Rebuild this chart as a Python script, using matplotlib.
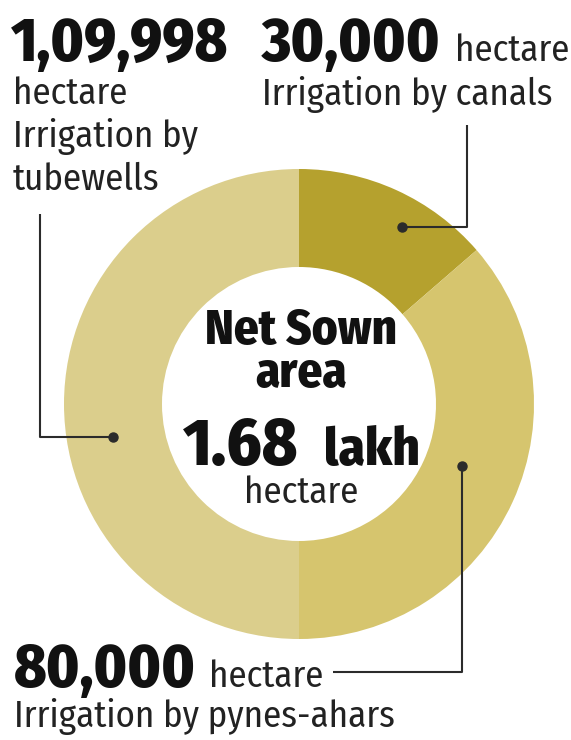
import matplotlib
matplotlib.use("Agg")
import matplotlib.pyplot as plt

# irrigation source shares of the net sown area (hectare)
sources = ["Irrigation by canals", "Irrigation by pynes-ahars", "Irrigation by tubewells"]
hectares = [30000, 80000, 109998]
value_labels = ["30,000", "80,000", "1,09,998"]
colors = ["#b5a12e", "#d6c56e", "#dbce8c"]

W, H = 571, 740
FONT = ["Fira Sans Condensed", "DejaVu Sans"]
INK = "#111111"
LINE = "#2b2b2b"


def y(px):
    # pixel row from the top -> data y
    return H - px


fig = plt.figure(figsize=(W / 100, H / 100), dpi=100)
ax = fig.add_axes([0, 0, 1, 1])

# donut
cx, cy, r_out, r_in = 299, 404, 235, 137
ax.pie(hectares, colors=colors, startangle=90, counterclock=False,
       center=(cx, y(cy)), radius=r_out, frame=True,
       wedgeprops=dict(width=r_out - r_in, linewidth=0))
ax.set_xlim(0, W)
ax.set_ylim(0, H)
ax.set_aspect("equal")
ax.axis("off")

# leader lines with dots
leaders = [
    [(402, 227), (467, 227), (467, 125)],   # canals
    [(113, 437), (40, 437), (40, 214)],     # tubewells
    [(462, 466), (462, 672), (333, 672)],   # pynes-ahars
]
for pts in leaders:
    xs = [p[0] for p in pts]
    ys = [y(p[1]) for p in pts]
    ax.plot(xs, ys, color=LINE, lw=1.5, solid_capstyle="butt")
    ax.plot(xs[0], ys[0], "o", color=LINE, ms=6.5)

big = dict(family=FONT, weight=800, color=INK, fontsize=44, va="baseline")
reg = dict(family=FONT, color="#222222", fontsize=26.5, va="baseline")

# tubewells (top left)
ax.text(11, y(61), value_labels[2], **big)
ax.text(13, y(104), "hectare", **reg)
ax.text(13, y(147), "Irrigation by", **reg)
ax.text(13, y(190), "tubewells", **reg)

# canals (top right)
ax.text(262, y(61), value_labels[0], **big)
ax.text(455, y(61), "hectare", **reg)
ax.text(262, y(105), sources[0], **reg)

# pynes-ahars (bottom)
ax.text(14, y(687), value_labels[1], **big)
ax.text(209, y(687), "hectare", **reg)
ax.text(14, y(727), sources[1], **reg)

# centre label
ax.text(301, y(387), "Net Sown\narea", ha="center", va="baseline",
        multialignment="center", linespacing=0.86, family=FONT,
        weight=800, fontsize=35, color=INK)
ax.text(183, y(465), "1.68", ha="left", va="baseline", family=FONT,
        weight=800, fontsize=48, color=INK)
ax.text(420, y(465), "lakh", ha="right", va="baseline", family=FONT,
        weight=800, fontsize=38, color=INK)
ax.text(301, y(503), "hectare", ha="center", va="baseline", family=FONT,
        fontsize=26.5, color="#222222")

fig.savefig("out.png", dpi=100, facecolor="white")
